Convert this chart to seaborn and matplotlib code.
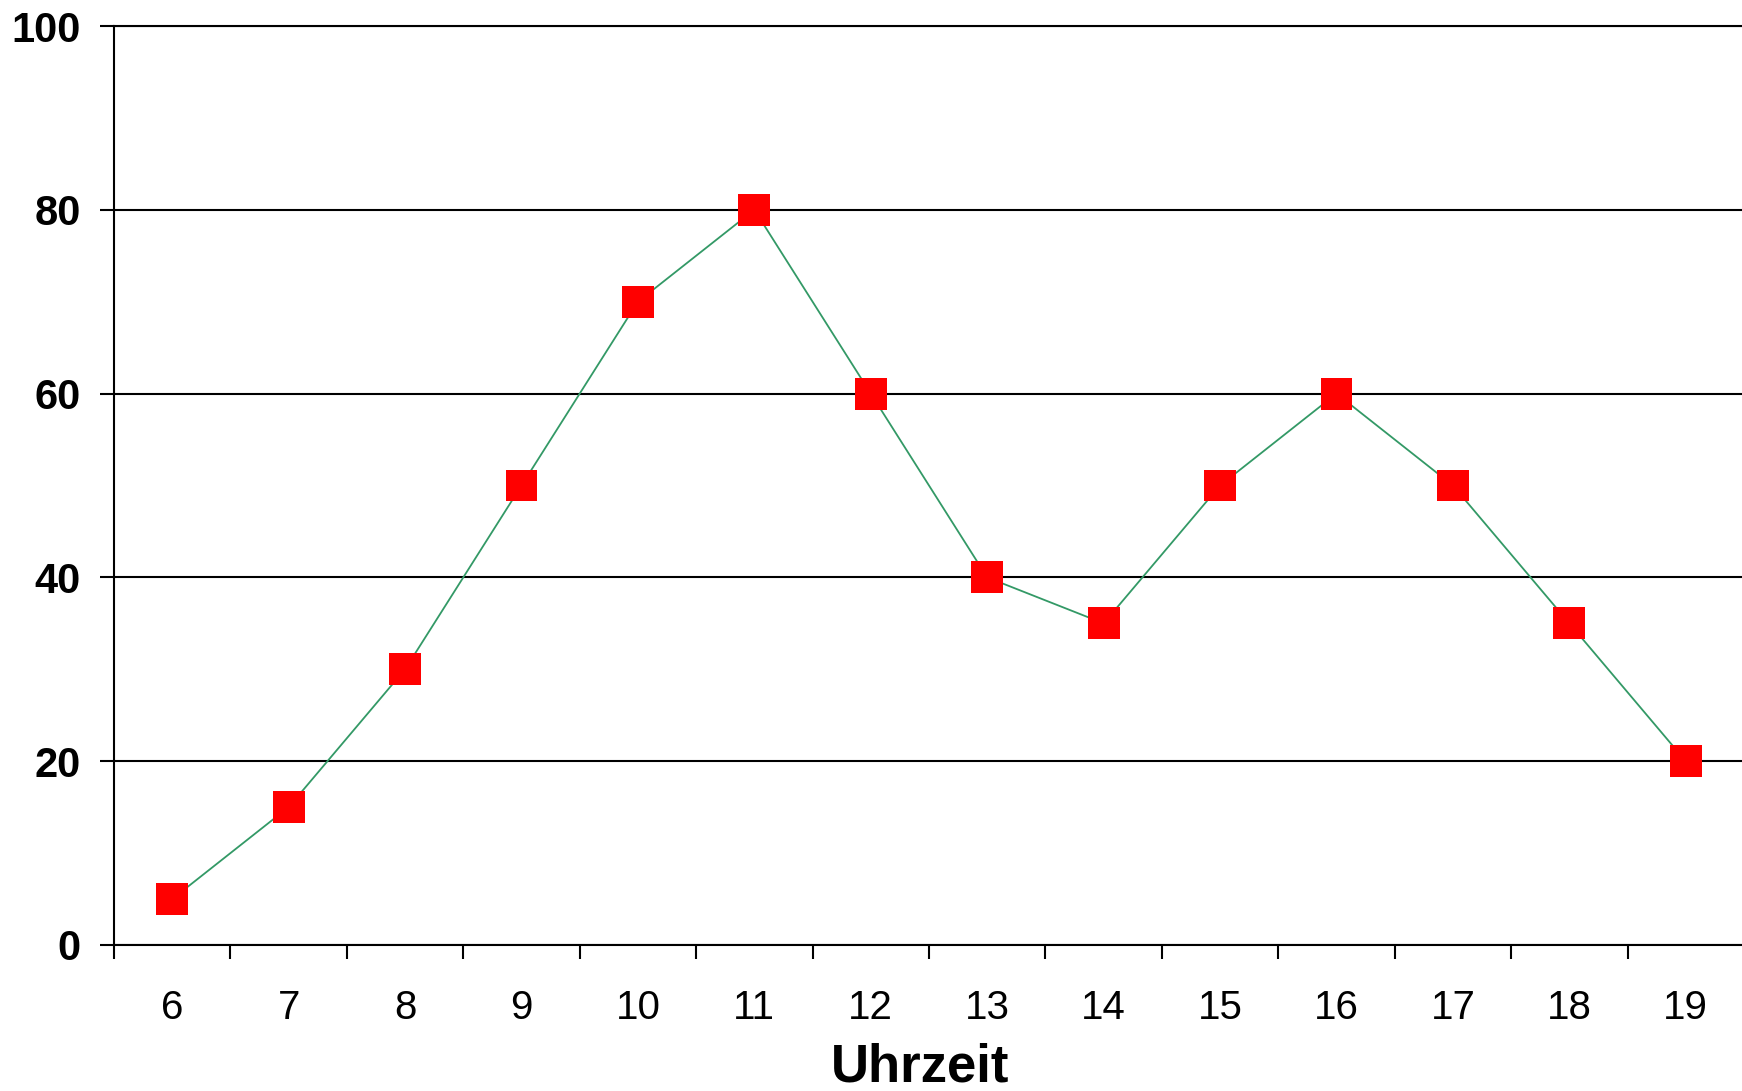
import numpy as np
import matplotlib
matplotlib.use("Agg")
import matplotlib.pyplot as plt
import seaborn as sns

hours = [6, 7, 8, 9, 10, 11, 12, 13, 14, 15, 16, 17, 18, 19]
values = [5, 15, 30, 50, 70, 80, 60, 40, 35, 50, 60, 50, 35, 20]
y_ticks = [0, 20, 40, 60, 80, 100]
x_label = "Uhrzeit"

sns.set_theme(style="white")
plt.rcParams['font.family'] = ['Liberation Sans', 'DejaVu Sans']

fig = plt.figure(figsize=(17.42, 10.91), dpi=100)
ax = fig.add_axes([114 / 1742, 1 - 945 / 1091, (1744 - 114) / 1742, (945 - 26) / 1091])

sns.lineplot(x=hours, y=values, ax=ax, color="#339966", linewidth=1.3, zorder=3)
sns.scatterplot(x=hours, y=values, ax=ax, marker="s", s=23 ** 2, color="#ff0000",
                edgecolor="none", linewidth=0, zorder=4)

ax.set_xlim(hours[0] - 0.5, hours[-1] + 0.5)
ax.set_ylim(y_ticks[0], y_ticks[-1])

ax.set_yticks(y_ticks)
ax.set_yticklabels([str(v) for v in y_ticks], fontsize=30, fontweight="bold")
ax.set_xticks(hours)
ax.set_xticklabels([str(h) for h in hours], fontsize=29)
ax.set_xticks(np.arange(hours[0] - 0.5, hours[-1] + 0.6, 1), minor=True)

ax.tick_params(axis="x", which="major", length=0, pad=32, colors="black")
ax.tick_params(axis="x", which="minor", length=10, width=1.5, direction="out", colors="black", bottom=True)
ax.tick_params(axis="y", which="major", length=10, width=1.5, direction="out", pad=14, colors="black", left=True)

ax.yaxis.grid(True, color="black", linewidth=1.5)
ax.xaxis.grid(False)
ax.set_axisbelow(True)

for side in ["left", "bottom", "top"]:
    ax.spines[side].set_visible(True)
    ax.spines[side].set_color("black")
    ax.spines[side].set_linewidth(1.5)
ax.spines["right"].set_visible(False)

ax.set_xlabel("")
ax.set_ylabel("")
fig.text(920 / 1742, 1 - 1068 / 1091, x_label, fontsize=38, fontweight="bold",
         color="black", ha="center", va="center")

fig.savefig("out.png", dpi=100)
